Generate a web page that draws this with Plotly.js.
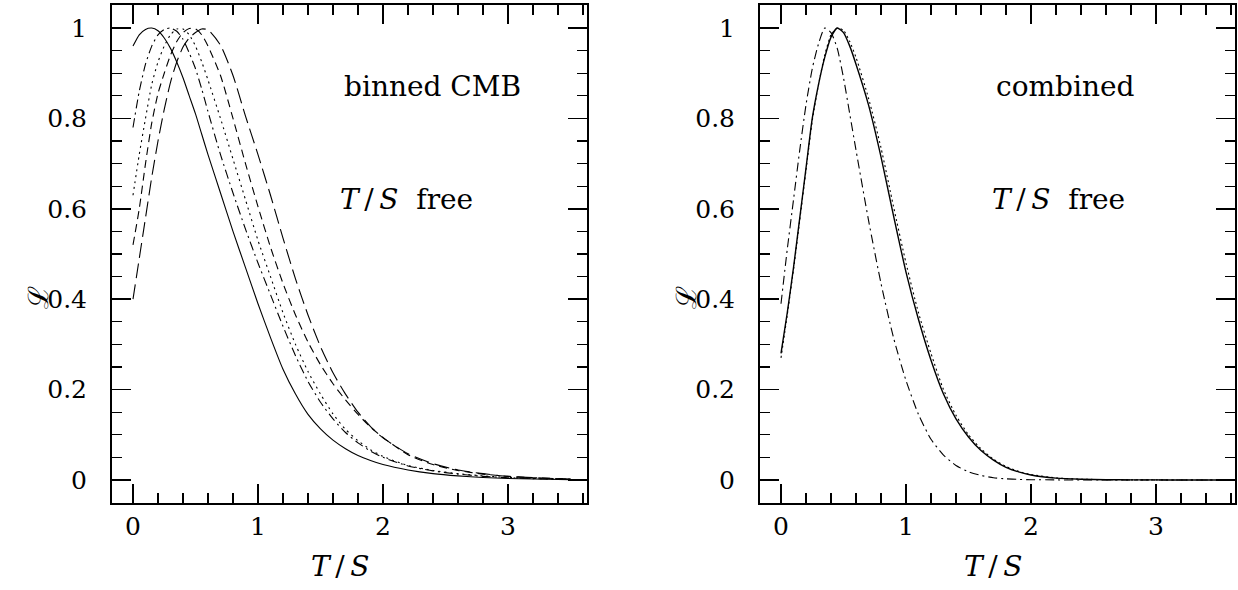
<!DOCTYPE html>
<html>
<head>
<meta charset="utf-8">
<script src="https://cdn.plot.ly/plotly-2.35.2.min.js"></script>
<style>html,body{margin:0;padding:0;background:#fff;}#chart{width:1238px;height:590px;}</style>
</head>
<body>
<div id="chart"></div>
<script>
// T/S grid
const ts = [0, 0.05, 0.1, 0.15, 0.2, 0.25, 0.3, 0.35, 0.4, 0.45, 0.5, 0.55, 0.6, 0.7, 0.8, 0.9, 1.0, 1.1, 1.2, 1.3, 1.4, 1.5, 1.6, 1.7, 1.8, 1.9, 2.0, 2.2, 2.4, 2.6, 2.8, 3.0, 3.2, 3.5];

// Left panel: binned CMB
const binnedSolid   = [0.96, 0.985, 0.997, 1.0, 0.994, 0.978, 0.955, 0.925, 0.89, 0.85, 0.81, 0.765, 0.72, 0.635, 0.55, 0.47, 0.39, 0.315, 0.245, 0.19, 0.145, 0.113, 0.088, 0.069, 0.054, 0.043, 0.034, 0.022, 0.014, 0.009, 0.0055, 0.0033, 0.002, 0.0008];
const binnedDashDot = [0.78, 0.86, 0.92, 0.96, 0.985, 0.997, 1.0, 0.993, 0.975, 0.945, 0.91, 0.865, 0.815, 0.72, 0.635, 0.555, 0.48, 0.41, 0.34, 0.275, 0.218, 0.172, 0.135, 0.105, 0.082, 0.064, 0.05, 0.031, 0.02, 0.013, 0.008, 0.005, 0.003, 0.0012];
const binnedDotted  = [0.63, 0.72, 0.80, 0.875, 0.925, 0.96, 0.985, 0.998, 0.998, 0.985, 0.96, 0.925, 0.885, 0.80, 0.71, 0.62, 0.53, 0.45, 0.37, 0.30, 0.24, 0.19, 0.146, 0.112, 0.087, 0.067, 0.052, 0.032, 0.021, 0.014, 0.009, 0.0055, 0.0033, 0.0013];
const binnedDashed  = [0.52, 0.60, 0.70, 0.79, 0.855, 0.90, 0.94, 0.97, 0.99, 0.999, 0.998, 0.985, 0.96, 0.895, 0.80, 0.70, 0.605, 0.515, 0.435, 0.365, 0.305, 0.255, 0.213, 0.177, 0.145, 0.117, 0.094, 0.056, 0.034, 0.021, 0.013, 0.008, 0.005, 0.002];
const binnedLongDash= [0.40, 0.49, 0.58, 0.67, 0.75, 0.82, 0.88, 0.925, 0.958, 0.978, 0.99, 0.998, 0.996, 0.962, 0.895, 0.805, 0.72, 0.63, 0.535, 0.445, 0.365, 0.295, 0.237, 0.19, 0.15, 0.118, 0.093, 0.058, 0.036, 0.022, 0.014, 0.008, 0.005, 0.002];

// Right panel: combined
const combSolid   = [0.28, 0.37, 0.47, 0.58, 0.69, 0.80, 0.875, 0.935, 0.98, 1.0, 0.99, 0.96, 0.92, 0.83, 0.715, 0.585, 0.46, 0.355, 0.265, 0.19, 0.135, 0.095, 0.065, 0.044, 0.028, 0.018, 0.011, 0.004, 0.0015, 0.0005, 0.0002, 0.0001, 0, 0];
const combDotted  = [0.27, 0.365, 0.465, 0.575, 0.685, 0.795, 0.875, 0.94, 0.985, 1.0, 0.995, 0.97, 0.935, 0.845, 0.735, 0.605, 0.48, 0.37, 0.28, 0.20, 0.143, 0.10, 0.069, 0.046, 0.03, 0.019, 0.012, 0.0045, 0.0017, 0.0006, 0.0002, 0.0001, 0, 0];
const combDashDot = [0.39, 0.51, 0.62, 0.73, 0.83, 0.91, 0.965, 1.0, 0.99, 0.955, 0.89, 0.81, 0.73, 0.575, 0.435, 0.315, 0.22, 0.145, 0.09, 0.055, 0.032, 0.018, 0.01, 0.005, 0.0025, 0.0012, 0.0006, 0.0001, 0, 0, 0, 0, 0, 0];

const xTickVals = [0, 1, 2, 3];
const xTickText = ['0', '1', '2', '3'];
const yTickVals = [0, 0.2, 0.4, 0.6, 0.8, 1];
const yTickText = ['0', '0.2', '0.4', '0.6', '0.8', '1'];

const LW = 1.1;
function tr(y, dash, xa, ya, w) {
  return {x: ts, y: y, type: 'scatter', mode: 'lines', xaxis: xa, yaxis: ya,
          line: {color: '#000', width: w || LW, dash: dash, shape: 'spline', smoothing: 0.6},
          hoverinfo: 'skip', showlegend: false};
}
const data = [
  tr(binnedSolid, 'solid', 'x', 'y'),
  tr(binnedDashDot, '9px,4px,2px,4px', 'x', 'y'),
  tr(binnedDotted, '2px,4px', 'x', 'y'),
  tr(binnedDashed, '8px,5px', 'x', 'y'),
  tr(binnedLongDash, '15px,6px', 'x', 'y'),
  tr(combDotted, '2px,3px', 'x2', 'y2'),
  tr(combSolid, 'solid', 'x2', 'y2', 1.4),
  tr(combDashDot, '9px,4px,2px,4px', 'x2', 'y2')
];

const tickFont = {family: 'DejaVu Serif, serif', size: 25, color: '#000'};
function xa(dom, anchor) {
  return {domain: dom, anchor: anchor, range: [-0.168, 3.632], tickvals: xTickVals, ticktext: xTickText,
          ticks: 'inside', ticklen: 19, tickwidth: 1.5, tickcolor: '#000', mirror: 'allticks',
          showline: true, linewidth: 2, linecolor: '#000', showgrid: false, zeroline: false,
          tickfont: tickFont, ticklabelstandoff: 0,
          minor: {dtick: 0.2, tick0: 0, ticks: 'inside', ticklen: 10, tickwidth: 1.2, tickcolor: '#000', showgrid: false}};
}
function ya(anchor) {
  return {domain: [0, 1], anchor: anchor, range: [-0.051, 1.051], tickvals: yTickVals, ticktext: yTickText,
          ticks: 'inside', ticklen: 19, tickwidth: 1.5, tickcolor: '#000', mirror: 'allticks',
          showline: true, linewidth: 2, linecolor: '#000', showgrid: false, zeroline: false,
          tickfont: tickFont, ticklabelstandoff: 18,
          minor: {dtick: 0.05, tick0: 0, ticks: 'inside', ticklen: 10, tickwidth: 1.2, tickcolor: '#000', showgrid: false}};
}

const TS = '<i>T</i>\u2009/\u2009<i>S</i>';
const txtFont = {family: 'DejaVu Serif, serif', size: 28, color: '#000'};
const layout = {
  width: 1238, height: 590,
  margin: {l: 0, r: 0, t: 5, b: 87},
  paper_bgcolor: '#fff', plot_bgcolor: '#fff',
  xaxis: xa([112/1238, 587/1238], 'y'),
  yaxis: ya('x'),
  xaxis2: xa([760/1238, 1235/1238], 'y2'),
  yaxis2: ya('x2'),
  annotations: [
    {xref: 'x', yref: 'y', x: 1.67, y: 0.87, xanchor: 'left', yanchor: 'middle', showarrow: false, text: 'binned CMB', font: txtFont},
    {xref: 'x', yref: 'y', x: 1.64, y: 0.62, xanchor: 'left', yanchor: 'middle', showarrow: false, text: TS + '\u00a0\u00a0free', font: txtFont},
    {xref: 'x2', yref: 'y2', x: 1.70, y: 0.87, xanchor: 'left', yanchor: 'middle', showarrow: false, text: 'combined', font: txtFont},
    {xref: 'x2', yref: 'y2', x: 1.67, y: 0.62, xanchor: 'left', yanchor: 'middle', showarrow: false, text: TS + '\u00a0\u00a0free', font: txtFont},
    {xref: 'x', yref: 'paper', x: 1.66, y: -0.1285, xanchor: 'center', yanchor: 'middle', showarrow: false, text: TS, font: txtFont},
    {xref: 'x2', yref: 'paper', x: 1.70, y: -0.1285, xanchor: 'center', yanchor: 'middle', showarrow: false, text: TS, font: txtFont},
    {xref: 'paper', yref: 'paper', x: 38/1238, y: (503-298)/498, xanchor: 'center', yanchor: 'middle', showarrow: false, text: 'ℒ', textangle: -90, font: {family: 'DejaVu Serif, serif', size: 28, color: '#000'}},
    {xref: 'paper', yref: 'paper', x: 686/1238, y: (503-298)/498, xanchor: 'center', yanchor: 'middle', showarrow: false, text: 'ℒ', textangle: -90, font: {family: 'DejaVu Serif, serif', size: 28, color: '#000'}}
  ]
};
Plotly.newPlot('chart', data, layout, {displayModeBar: false, staticPlot: true});
</script>
</body>
</html>
